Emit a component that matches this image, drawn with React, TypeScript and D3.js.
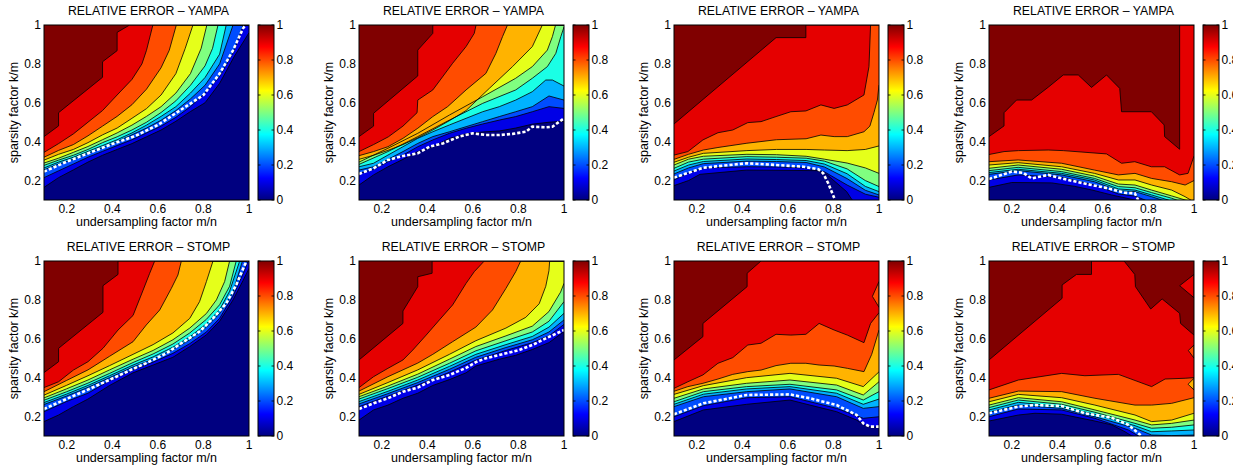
import React from "react";
import * as d3 from "d3";

type Pt = [number, number];
type Island = { level: number; pts: Pt[] };

// ---------- shared axis data ----------
const xTicks = [0.2, 0.4, 0.6, 0.8, 1];
const yTicks = [0.2, 0.4, 0.6, 0.8, 1];
const cbTicks = [0, 0.2, 0.4, 0.6, 0.8, 1];
const contourLevels = [0.1, 0.2, 0.3, 0.4, 0.5, 0.6, 0.7, 0.8, 0.9, 1.0];
const titleYampa = "RELATIVE ERROR \u2013 YAMPA";
const titleStomp = "RELATIVE ERROR \u2013 STOMP";
const xLabel = "undersampling factor m/n";
const yLabel = "sparsity factor k/m";

// ---------- panel 1 : YAMPA ----------
const yampa1Contours: Pt[][] = [
  [[0.1,0.165],[0.164,0.215],[0.229,0.255],[0.293,0.295],[0.357,0.33],[0.421,0.36],[0.486,0.39],[0.55,0.425],[0.614,0.46],[0.679,0.505],[0.743,0.555],[0.807,0.6],[0.871,0.7],[0.936,0.84],[1.0,0.96]],
  [[0.1,0.215],[0.164,0.25],[0.229,0.285],[0.293,0.32],[0.357,0.35],[0.421,0.38],[0.486,0.41],[0.55,0.445],[0.614,0.48],[0.679,0.525],[0.743,0.58],[0.807,0.65],[0.871,0.735],[0.936,0.87],[0.975,1.0],[1.0,1.0]],
  [[0.1,0.255],[0.164,0.285],[0.229,0.31],[0.293,0.34],[0.357,0.37],[0.421,0.4],[0.486,0.435],[0.55,0.47],[0.614,0.51],[0.679,0.56],[0.743,0.62],[0.807,0.69],[0.871,0.8],[0.93,1.0],[1.0,1.0]],
  [[0.1,0.265],[0.164,0.295],[0.229,0.32],[0.293,0.35],[0.357,0.38],[0.421,0.41],[0.486,0.445],[0.55,0.485],[0.614,0.53],[0.679,0.58],[0.743,0.65],[0.807,0.73],[0.871,0.85],[0.9,1.0],[1.0,1.0]],
  [[0.1,0.278],[0.164,0.305],[0.229,0.33],[0.293,0.36],[0.357,0.395],[0.421,0.425],[0.486,0.46],[0.55,0.5],[0.614,0.55],[0.679,0.61],[0.743,0.69],[0.807,0.79],[0.84,0.88],[0.864,1.0],[1.0,1.0]],
  [[0.1,0.29],[0.164,0.315],[0.229,0.345],[0.293,0.375],[0.357,0.41],[0.421,0.445],[0.486,0.485],[0.55,0.53],[0.614,0.58],[0.679,0.65],[0.743,0.75],[0.79,0.88],[0.815,1.0],[1.0,1.0]],
  [[0.1,0.305],[0.164,0.335],[0.229,0.36],[0.293,0.395],[0.357,0.435],[0.421,0.47],[0.486,0.52],[0.55,0.57],[0.614,0.64],[0.679,0.75],[0.72,0.88],[0.754,1.0],[1.0,1.0]],
  [[0.1,0.32],[0.164,0.355],[0.229,0.385],[0.293,0.43],[0.357,0.48],[0.421,0.53],[0.486,0.59],[0.55,0.67],[0.614,0.78],[0.65,0.87],[0.681,1.0],[1.0,1.0]],
  [[0.1,0.345],[0.164,0.39],[0.229,0.44],[0.293,0.5],[0.357,0.56],[0.421,0.64],[0.486,0.72],[0.53,0.8],[0.55,0.87],[0.578,1.0],[1.0,1.0]],
  [[0.1,0.426],[0.164,0.481],[0.164,0.549],[0.357,0.731],[0.357,0.811],[0.421,0.868],[0.421,0.962],[0.476,1.0],[1.0,1.0]],
];
const yampa1Threshold: Pt[] = [[0.1,0.246],[0.2,0.297],[0.3,0.343],[0.4,0.388],[0.5,0.429],[0.6,0.486],[0.7,0.563],[0.8,0.64],[0.871,0.75],[0.93,0.87],[0.974,0.983],[0.985,1.0]];

// ---------- panel 2 : YAMPA ----------
const yampa2Contours: Pt[][] = [
  [[0.1,0.177],[0.164,0.229],[0.227,0.271],[0.293,0.309],[0.358,0.349],[0.424,0.374],[0.497,0.417],[0.57,0.44],[0.643,0.45],[0.716,0.455],[0.788,0.47],[0.861,0.49],[0.934,0.5],[1.0,0.505]],
  [[0.1,0.237],[0.164,0.258],[0.227,0.297],[0.293,0.331],[0.358,0.374],[0.424,0.409],[0.497,0.443],[0.57,0.469],[0.643,0.491],[0.716,0.511],[0.788,0.529],[0.861,0.554],[0.934,0.58],[1.0,0.571]],
  [[0.1,0.254],[0.164,0.271],[0.227,0.309],[0.293,0.349],[0.358,0.391],[0.424,0.426],[0.497,0.451],[0.57,0.477],[0.643,0.503],[0.716,0.529],[0.788,0.554],[0.861,0.58],[0.934,0.635],[1.0,0.614]],
  [[0.1,0.271],[0.164,0.289],[0.227,0.331],[0.293,0.374],[0.358,0.417],[0.424,0.451],[0.497,0.486],[0.57,0.52],[0.643,0.554],[0.716,0.58],[0.788,0.614],[0.861,0.657],[0.92,0.717],[0.949,0.717],[1.0,0.686]],
  [[0.1,0.283],[0.227,0.349],[0.358,0.426],[0.497,0.511],[0.643,0.597],[0.788,0.666],[0.861,0.726],[0.927,0.786],[0.964,0.854],[0.986,0.94],[1.0,0.99]],
  [[0.1,0.295],[0.227,0.366],[0.358,0.443],[0.497,0.537],[0.643,0.631],[0.788,0.726],[0.861,0.786],[0.927,0.871],[0.949,0.94],[0.963,1.0],[1.0,1.0]],
  [[0.1,0.309],[0.164,0.33],[0.227,0.355],[0.293,0.385],[0.358,0.42],[0.424,0.46],[0.5,0.51],[0.57,0.56],[0.672,0.674],[0.774,0.786],[0.861,0.889],[0.905,1.0],[1.0,1.0]],
  [[0.1,0.328],[0.164,0.349],[0.227,0.374],[0.293,0.417],[0.358,0.469],[0.424,0.529],[0.489,0.58],[0.57,0.666],[0.657,0.751],[0.701,0.854],[0.73,0.94],[0.752,1.0],[1.0,1.0]],
  [[0.1,0.349],[0.164,0.385],[0.229,0.425],[0.293,0.48],[0.355,0.549],[0.358,0.614],[0.424,0.666],[0.511,0.803],[0.57,0.889],[0.606,0.957],[0.614,1.0],[1.0,1.0]],
  [[0.1,0.426],[0.164,0.48],[0.164,0.546],[0.358,0.738],[0.358,0.871],[0.424,0.957],[0.424,1.0],[1.0,1.0]],
];
const yampa2Threshold: Pt[] = [[0.1,0.234],[0.164,0.263],[0.227,0.306],[0.293,0.326],[0.358,0.34],[0.409,0.374],[0.468,0.391],[0.54,0.426],[0.599,0.443],[0.657,0.434],[0.716,0.434],[0.774,0.44],[0.832,0.451],[0.861,0.477],[0.92,0.474],[0.949,0.477],[1.0,0.52]];

// ---------- panel 3 : YAMPA ----------
const yampa3Contours: Pt[][] = [
  [[0.1,0.174],[0.164,0.2],[0.214,0.232],[0.419,0.254],[0.726,0.251],[0.77,0.232],[0.858,0.143],[0.88,0.104],[0.9,0.08],[1.0,0.08]],
  [[0.1,0.203],[0.164,0.24],[0.229,0.265],[0.42,0.271],[0.55,0.27],[0.68,0.265],[0.76,0.245],[0.86,0.177],[0.94,0.13],[1.0,0.114]],
  [[0.1,0.234],[0.164,0.265],[0.229,0.287],[0.42,0.3],[0.55,0.298],[0.68,0.293],[0.76,0.27],[0.86,0.21],[0.94,0.15],[1.0,0.126]],
  [[0.1,0.249],[0.164,0.28],[0.229,0.298],[0.42,0.311],[0.55,0.308],[0.68,0.303],[0.76,0.285],[0.86,0.235],[0.94,0.17],[1.0,0.143]],
  [[0.1,0.263],[0.164,0.295],[0.229,0.31],[0.42,0.323],[0.55,0.32],[0.68,0.315],[0.76,0.3],[0.86,0.26],[0.94,0.2],[1.0,0.169]],
  [[0.1,0.28],[0.164,0.31],[0.229,0.325],[0.42,0.335],[0.55,0.333],[0.68,0.325],[0.76,0.31],[0.86,0.29],[0.94,0.265],[1.0,0.237]],
  [[0.1,0.294],[0.164,0.32],[0.229,0.34],[0.42,0.354],[0.55,0.36],[0.68,0.36],[0.76,0.357],[0.86,0.354],[0.94,0.36],[1.0,0.378]],
  [[0.1,0.309],[0.164,0.335],[0.229,0.357],[0.293,0.37],[0.42,0.392],[0.55,0.41],[0.68,0.415],[0.745,0.434],[0.803,0.426],[0.861,0.426],[0.934,0.451],[0.96,0.48],[0.978,0.55],[0.993,0.614],[1.0,0.691]],
  [[0.1,0.331],[0.161,0.349],[0.227,0.409],[0.293,0.446],[0.358,0.46],[0.424,0.498],[0.482,0.503],[0.548,0.529],[0.613,0.554],[0.679,0.558],[0.745,0.589],[0.803,0.571],[0.861,0.589],[0.934,0.64],[0.956,0.786],[0.963,1.0],[1.0,1.0]],
  [[0.1,0.491],[0.548,0.935],[0.679,0.935],[0.679,1.0],[1.0,1.0]],
];
const yampa3Threshold: Pt[] = [[0.1,0.215],[0.229,0.266],[0.419,0.289],[0.55,0.28],[0.668,0.271],[0.734,0.258],[0.755,0.237],[0.777,0.186],[0.807,0.1]];

// ---------- panel 4 : YAMPA ----------
const yampa4Contours: Pt[][] = [
  [[0.1,0.165],[0.2,0.19],[0.375,0.188],[0.477,0.17],[0.55,0.152],[0.638,0.126],[0.74,0.1],[0.8,0.08],[1.0,0.08]],
  [[0.1,0.203],[0.228,0.229],[0.419,0.217],[0.563,0.177],[0.668,0.131],[0.741,0.12],[0.785,0.1],[0.82,0.08],[1.0,0.08]],
  [[0.1,0.232],[0.228,0.251],[0.419,0.229],[0.563,0.194],[0.668,0.148],[0.741,0.143],[0.814,0.117],[0.858,0.1],[0.9,0.08],[1.0,0.08]],
  [[0.1,0.241],[0.228,0.258],[0.419,0.237],[0.563,0.203],[0.668,0.157],[0.741,0.151],[0.814,0.126],[0.887,0.1],[0.93,0.08],[1.0,0.08]],
  [[0.1,0.251],[0.228,0.268],[0.419,0.246],[0.563,0.211],[0.668,0.169],[0.741,0.163],[0.814,0.138],[0.902,0.109],[0.946,0.09],[1.0,0.08]],
  [[0.1,0.263],[0.228,0.28],[0.419,0.258],[0.563,0.223],[0.668,0.182],[0.741,0.177],[0.814,0.151],[0.902,0.121],[0.961,0.1],[1.0,0.09]],
  [[0.1,0.28],[0.228,0.292],[0.419,0.271],[0.563,0.237],[0.668,0.203],[0.741,0.203],[0.814,0.177],[0.902,0.151],[0.961,0.117],[1.0,0.09]],
  [[0.1,0.297],[0.228,0.306],[0.419,0.289],[0.563,0.254],[0.668,0.229],[0.741,0.237],[0.814,0.211],[0.902,0.194],[0.961,0.177],[1.0,0.2]],
  [[0.1,0.334],[0.166,0.349],[0.229,0.354],[0.36,0.357],[0.426,0.354],[0.616,0.337],[0.682,0.289],[0.74,0.297],[0.813,0.271],[0.871,0.271],[0.937,0.229],[0.974,0.237],[1.0,0.326]],
  [[0.1,0.426],[0.166,0.481],[0.166,0.549],[0.221,0.614],[0.287,0.614],[0.36,0.68],[0.426,0.743],[0.492,0.743],[0.55,0.679],[0.616,0.743],[0.674,0.674],[0.682,0.554],[0.813,0.554],[0.869,0.486],[0.871,0.426],[0.937,0.361],[0.937,1.0],[1.0,1.0]],
];
const yampa4Threshold: Pt[] = [[0.1,0.208],[0.2,0.246],[0.25,0.24],[0.287,0.211],[0.36,0.229],[0.448,0.203],[0.55,0.177],[0.623,0.16],[0.696,0.137],[0.74,0.135],[0.755,0.1]];

// ---------- panel 5 : STOMP ----------
const stomp1Contours: Pt[][] = [
  [[0.1,0.174],[0.164,0.208],[0.229,0.251],[0.293,0.29],[0.388,0.36],[0.491,0.425],[0.579,0.465],[0.666,0.505],[0.74,0.56],[0.813,0.62],[0.871,0.69],[0.93,0.8],[0.974,0.9],[1.0,0.962]],
  [[0.1,0.225],[0.198,0.277],[0.293,0.32],[0.388,0.385],[0.491,0.44],[0.579,0.48],[0.666,0.525],[0.74,0.575],[0.813,0.635],[0.871,0.705],[0.93,0.82],[0.98,0.95],[0.996,1.0],[1.0,1.0]],
  [[0.1,0.262],[0.198,0.305],[0.293,0.35],[0.388,0.4],[0.491,0.455],[0.579,0.495],[0.666,0.545],[0.74,0.595],[0.813,0.66],[0.871,0.73],[0.93,0.84],[0.971,1.0],[1.0,1.0]],
  [[0.1,0.272],[0.198,0.315],[0.293,0.36],[0.388,0.41],[0.491,0.465],[0.579,0.507],[0.666,0.557],[0.74,0.61],[0.813,0.677],[0.871,0.75],[0.915,0.845],[0.959,1.0],[1.0,1.0]],
  [[0.1,0.284],[0.198,0.327],[0.293,0.372],[0.388,0.422],[0.491,0.478],[0.579,0.522],[0.666,0.573],[0.74,0.63],[0.813,0.7],[0.871,0.775],[0.915,0.87],[0.944,1.0],[1.0,1.0]],
  [[0.1,0.296],[0.198,0.342],[0.293,0.388],[0.388,0.44],[0.491,0.495],[0.579,0.54],[0.666,0.595],[0.74,0.655],[0.813,0.73],[0.857,0.8],[0.893,0.894],[0.915,1.0],[1.0,1.0]],
  [[0.1,0.31],[0.198,0.36],[0.293,0.41],[0.388,0.462],[0.491,0.52],[0.579,0.57],[0.666,0.63],[0.74,0.705],[0.783,0.791],[0.813,0.894],[0.842,1.0],[1.0,1.0]],
  [[0.1,0.328],[0.198,0.385],[0.293,0.44],[0.388,0.51],[0.491,0.585],[0.549,0.671],[0.608,0.748],[0.659,0.859],[0.688,0.928],[0.703,1.0],[1.0,1.0]],
  [[0.1,0.349],[0.164,0.379],[0.229,0.439],[0.293,0.482],[0.359,0.551],[0.425,0.645],[0.491,0.72],[0.535,0.85],[0.564,0.937],[0.586,1.0],[1.0,1.0]],
  [[0.1,0.426],[0.164,0.482],[0.164,0.551],[0.359,0.736],[0.359,0.873],[0.425,0.931],[0.425,1.0],[1.0,1.0]],
];
const stomp1Threshold: Pt[] = [[0.1,0.239],[0.198,0.29],[0.286,0.335],[0.418,0.405],[0.491,0.445],[0.549,0.475],[0.637,0.525],[0.7,0.575],[0.783,0.637],[0.842,0.705],[0.9,0.782],[0.944,0.877],[0.981,0.979],[0.99,1.0]];

// ---------- panel 6 : STOMP ----------
const stomp2Contours: Pt[][] = [
  [[0.1,0.182],[0.164,0.234],[0.227,0.259],[0.293,0.294],[0.358,0.32],[0.424,0.36],[0.497,0.39],[0.57,0.425],[0.613,0.46],[0.716,0.495],[0.788,0.515],[0.861,0.545],[0.934,0.58],[1.0,0.637]],
  [[0.1,0.251],[0.227,0.305],[0.358,0.362],[0.497,0.428],[0.613,0.49],[0.745,0.54],[0.861,0.58],[0.934,0.615],[1.0,0.674]],
  [[0.1,0.265],[0.227,0.318],[0.358,0.375],[0.497,0.443],[0.613,0.505],[0.745,0.555],[0.861,0.595],[0.934,0.635],[1.0,0.697]],
  [[0.1,0.277],[0.227,0.33],[0.358,0.388],[0.497,0.458],[0.613,0.52],[0.745,0.57],[0.861,0.612],[0.934,0.66],[1.0,0.731]],
  [[0.1,0.29],[0.227,0.344],[0.358,0.402],[0.497,0.474],[0.613,0.538],[0.745,0.59],[0.861,0.635],[0.934,0.69],[1.0,0.791]],
  [[0.1,0.302],[0.227,0.357],[0.358,0.418],[0.497,0.495],[0.613,0.56],[0.745,0.615],[0.861,0.665],[0.934,0.74],[0.985,0.84],[1.0,0.885]],
  [[0.1,0.314],[0.227,0.375],[0.358,0.44],[0.497,0.52],[0.613,0.59],[0.745,0.655],[0.832,0.71],[0.891,0.78],[0.92,0.87],[0.934,0.95],[0.937,1.0],[1.0,1.0]],
  [[0.1,0.331],[0.227,0.405],[0.358,0.475],[0.424,0.52],[0.511,0.585],[0.613,0.66],[0.686,0.748],[0.745,0.859],[0.788,0.945],[0.81,1.0],[1.0,1.0]],
  [[0.1,0.349],[0.164,0.405],[0.227,0.448],[0.293,0.491],[0.336,0.542],[0.395,0.619],[0.453,0.697],[0.511,0.774],[0.57,0.885],[0.606,0.945],[0.65,1.0],[1.0,1.0]],
  [[0.1,0.491],[0.293,0.679],[0.293,0.743],[0.358,0.868],[0.358,0.919],[0.421,0.937],[0.421,1.0],[1.0,1.0]],
];
const stomp2Threshold: Pt[] = [[0.1,0.239],[0.164,0.268],[0.227,0.294],[0.293,0.328],[0.358,0.349],[0.424,0.388],[0.497,0.414],[0.57,0.45],[0.613,0.48],[0.657,0.5],[0.745,0.525],[0.803,0.542],[0.861,0.568],[0.92,0.602],[1.0,0.645]];

// ---------- panel 7 : STOMP ----------
const stomp3Contours: Pt[][] = [
  [[0.1,0.174],[0.229,0.234],[0.419,0.263],[0.609,0.285],[0.697,0.259],[0.814,0.225],[0.902,0.182],[0.946,0.148],[1.0,0.145]],
  [[0.1,0.199],[0.229,0.256],[0.419,0.297],[0.609,0.302],[0.814,0.242],[0.931,0.191],[1.0,0.199]],
  [[0.1,0.251],[0.229,0.302],[0.419,0.328],[0.609,0.342],[0.814,0.302],[0.931,0.242],[1.0,0.251]],
  [[0.1,0.263],[0.229,0.315],[0.419,0.342],[0.609,0.354],[0.814,0.32],[0.931,0.263],[1.0,0.29]],
  [[0.1,0.276],[0.229,0.328],[0.419,0.354],[0.609,0.366],[0.814,0.337],[0.931,0.285],[1.0,0.328]],
  [[0.1,0.294],[0.229,0.342],[0.419,0.371],[0.609,0.388],[0.814,0.362],[0.931,0.311],[1.0,0.379]],
  [[0.1,0.314],[0.229,0.359],[0.419,0.4],[0.609,0.422],[0.814,0.397],[0.931,0.354],[1.0,0.43]],
  [[0.1,0.33],[0.161,0.354],[0.227,0.371],[0.293,0.393],[0.358,0.417],[0.424,0.431],[0.482,0.439],[0.548,0.462],[0.613,0.474],[0.679,0.474],[0.737,0.465],[0.803,0.46],[0.861,0.448],[0.934,0.431],[0.968,0.52],[1.0,0.645]],
  [[0.1,0.345],[0.161,0.379],[0.227,0.414],[0.293,0.474],[0.358,0.503],[0.424,0.568],[0.482,0.577],[0.548,0.623],[0.613,0.619],[0.679,0.623],[0.737,0.679],[0.803,0.645],[0.861,0.619],[0.934,0.58],[0.963,0.679],[1.0,0.734]],
  [[0.1,0.491],[0.227,0.611],[0.227,0.679],[0.421,0.868],[0.421,0.937],[0.482,1.0],[1.0,1.0]],
];
const stomp3Threshold: Pt[] = [[0.1,0.212],[0.229,0.268],[0.419,0.311],[0.609,0.314],[0.697,0.294],[0.814,0.259],[0.902,0.208],[0.931,0.165],[0.96,0.148],[1.0,0.148]];
const stomp3Islands: Island[] = [{ level: 0.8, pts: [[1.0,0.894],[0.971,0.818],[1.0,0.762]] }];

// ---------- panel 8 : STOMP ----------
const stomp4Contours: Pt[][] = [
  [[0.1,0.177],[0.229,0.208],[0.302,0.217],[0.419,0.212],[0.565,0.177],[0.639,0.157],[0.697,0.122],[0.727,0.1],[0.8,0.08],[1.0,0.08]],
  [[0.1,0.199],[0.229,0.239],[0.419,0.234],[0.565,0.191],[0.712,0.131],[0.756,0.1],[0.8,0.08],[1.0,0.08]],
  [[0.1,0.222],[0.229,0.259],[0.419,0.242],[0.565,0.199],[0.741,0.14],[0.814,0.105],[0.9,0.102],[1.0,0.105]],
  [[0.1,0.234],[0.229,0.273],[0.419,0.251],[0.565,0.212],[0.741,0.153],[0.814,0.122],[0.902,0.126],[1.0,0.131]],
  [[0.1,0.246],[0.229,0.285],[0.419,0.263],[0.565,0.222],[0.741,0.165],[0.814,0.14],[0.902,0.145],[1.0,0.157]],
  [[0.1,0.259],[0.229,0.297],[0.419,0.276],[0.565,0.234],[0.741,0.182],[0.814,0.157],[0.902,0.165],[1.0,0.182]],
  [[0.1,0.276],[0.229,0.314],[0.419,0.297],[0.565,0.259],[0.741,0.208],[0.814,0.174],[0.902,0.182],[1.0,0.217]],
  [[0.1,0.294],[0.229,0.331],[0.419,0.328],[0.565,0.294],[0.741,0.259],[0.814,0.259],[0.902,0.268],[1.0,0.297]],
  [[0.1,0.337],[0.229,0.388],[0.419,0.422],[0.521,0.41],[0.668,0.417],[0.814,0.354],[0.873,0.393],[0.961,0.397],[1.0,0.4]],
  [[0.1,0.491],[0.421,0.808],[0.421,0.877],[0.484,0.931],[0.55,0.931],[0.55,1.0],[0.693,1.0],[0.74,0.931],[0.743,0.868],[0.81,0.753],[0.86,0.805],[0.937,0.731],[0.941,0.679],[1.0,0.619]],
];
const stomp4Threshold: Pt[] = [[0.1,0.217],[0.229,0.251],[0.302,0.259],[0.419,0.254],[0.521,0.217],[0.639,0.194],[0.712,0.157],[0.77,0.1]];
const stomp4Islands: Island[] = [
  { level: 0.9, pts: [[1.0,0.931],[0.937,0.873],[1.0,0.811]] },
  { level: 0.8, pts: [[1.0,0.568],[0.975,0.54],[1.0,0.5]] },
  { level: 0.7, pts: [[1.0,0.397],[0.974,0.366],[1.0,0.337]] },
];

// ---------- layout / style ----------
const PW = 205;
const PH = 175;
const COL_LEFT = [44, 359, 674, 989];
const ROW_TOP = [25, 261];
const FONT = "'Liberation Sans', Arial, Helvetica, sans-serif";

function jet(t: number): string {
  const c = (v: number) => Math.max(0, Math.min(1, v));
  const r = c(1.5 - Math.abs(4 * t - 3));
  const g = c(1.5 - Math.abs(4 * t - 2));
  const b = c(1.5 - Math.abs(4 * t - 1));
  return d3.rgb(r * 255, g * 255, b * 255).formatHex();
}

interface PanelProps {
  id: string;
  left: number;
  top: number;
  title: string;
  contours: Pt[][];
  threshold: Pt[];
  islands?: Island[];
}

function Panel({ id, left, top, title, contours, threshold, islands = [] }: PanelProps) {
  const x = d3.scaleLinear().domain([0.1, 1]).range([left, left + PW]);
  const y = d3.scaleLinear().domain([0.1, 1]).range([top + PH, top]);
  const yc = d3.scaleLinear().domain([0, 1]).range([top + PH, top]);
  const line = d3.line<Pt>().x((d) => x(d[0])).y((d) => y(d[1]));
  const bandPath = (b: Pt[]) => (line([...b, [1.0, 1.05], [0.1, 1.05]]) || "") + "Z";
  const cbX = left + 214;
  const cbW = 16;
  return (
    <g>
      <defs>
        <clipPath id={`clip-${id}`}>
          <rect x={left} y={top} width={PW} height={PH} />
        </clipPath>
      </defs>
      <g clipPath={`url(#clip-${id})`}>
        <rect x={left} y={top} width={PW} height={PH} fill={jet(0)} />
        {contours.map((b, i) => (
          <path key={`f${i}`} d={bandPath(b)} fill={jet(contourLevels[i])} stroke="none" />
        ))}
        {islands.map((isl, i) => (
          <path key={`i${i}`} d={(line(isl.pts) || "") + "Z"} fill={jet(isl.level)} stroke="#000" strokeWidth={0.8} />
        ))}
        {contours.map((b, i) => (
          <path key={`l${i}`} d={line(b) || ""} fill="none" stroke="#000" strokeWidth={0.8} />
        ))}
        <path d={line(threshold) || ""} fill="none" stroke="#fff" strokeWidth={2.6} strokeDasharray="3.2 2" />
      </g>
      <rect x={left} y={top} width={PW} height={PH} fill="none" stroke="#000" strokeWidth={1} />
      <text x={left + PW / 2 + 2} y={top - 10} textAnchor="middle" fontSize={12.3} fontFamily={FONT} fill="#000">
        {title}
      </text>
      {xTicks.map((t) => (
        <text key={`xt${t}`} x={x(t)} y={top + PH + 13} textAnchor="middle" fontSize={12} fontFamily={FONT}>
          {String(t)}
        </text>
      ))}
      {yTicks.map((t) => (
        <text key={`yt${t}`} x={left - 3} y={y(t)} dy="0.35em" textAnchor="end" fontSize={12} fontFamily={FONT}>
          {String(t)}
        </text>
      ))}
      <text x={left + PW / 2} y={top + PH + 26} textAnchor="middle" fontSize={12.5} fontFamily={FONT}>
        {xLabel}
      </text>
      <text
        transform={`translate(${left - 26},${top + PH / 2}) rotate(-90)`}
        textAnchor="middle"
        fontSize={12.5}
        fontFamily={FONT}
      >
        {yLabel}
      </text>
      <rect x={cbX} y={top} width={cbW} height={PH} fill="url(#jetGrad)" stroke="#000" strokeWidth={1} />
      {cbTicks.map((t) => (
        <g key={`cb${t}`}>
          <line x1={cbX + cbW - 2.5} x2={cbX + cbW} y1={yc(t)} y2={yc(t)} stroke="#000" strokeWidth={0.8} />
          <line x1={cbX} x2={cbX + 2.5} y1={yc(t)} y2={yc(t)} stroke="#000" strokeWidth={0.8} />
          <text x={cbX + cbW + 2.5} y={yc(t)} dy="0.35em" textAnchor="start" fontSize={12} fontFamily={FONT}>
            {String(t)}
          </text>
        </g>
      ))}
    </g>
  );
}

const gradStops = d3.range(0, 1.0001, 0.025);

export default function App() {
  const panels: PanelProps[] = [
    { id: "y1", left: COL_LEFT[0], top: ROW_TOP[0], title: titleYampa, contours: yampa1Contours, threshold: yampa1Threshold },
    { id: "y2", left: COL_LEFT[1], top: ROW_TOP[0], title: titleYampa, contours: yampa2Contours, threshold: yampa2Threshold },
    { id: "y3", left: COL_LEFT[2], top: ROW_TOP[0], title: titleYampa, contours: yampa3Contours, threshold: yampa3Threshold },
    { id: "y4", left: COL_LEFT[3], top: ROW_TOP[0], title: titleYampa, contours: yampa4Contours, threshold: yampa4Threshold },
    { id: "s1", left: COL_LEFT[0], top: ROW_TOP[1], title: titleStomp, contours: stomp1Contours, threshold: stomp1Threshold },
    { id: "s2", left: COL_LEFT[1], top: ROW_TOP[1], title: titleStomp, contours: stomp2Contours, threshold: stomp2Threshold },
    { id: "s3", left: COL_LEFT[2], top: ROW_TOP[1], title: titleStomp, contours: stomp3Contours, threshold: stomp3Threshold, islands: stomp3Islands },
    { id: "s4", left: COL_LEFT[3], top: ROW_TOP[1], title: titleStomp, contours: stomp4Contours, threshold: stomp4Threshold, islands: stomp4Islands },
  ];
  return (
    <svg
      width={1233}
      height={471}
      style={{ position: "absolute", left: 0, top: 0, background: "#fff" }}
      xmlns="http://www.w3.org/2000/svg"
    >
      <defs>
        <linearGradient id="jetGrad" x1="0" y1="1" x2="0" y2="0">
          {gradStops.map((t) => (
            <stop key={t} offset={t} stopColor={jet(t)} />
          ))}
        </linearGradient>
      </defs>
      <rect x={0} y={0} width={1233} height={471} fill="#fff" />
      {panels.map((p) => (
        <Panel key={p.id} {...p} />
      ))}
    </svg>
  );
}
